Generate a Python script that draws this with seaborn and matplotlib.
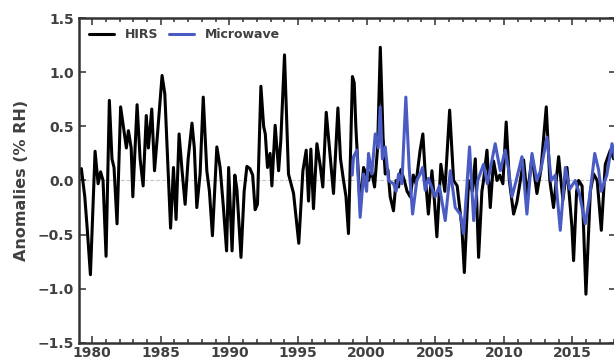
import numpy as np
import pandas as pd
import matplotlib
matplotlib.use("Agg")
import matplotlib.pyplot as plt
from matplotlib.ticker import MultipleLocator
import seaborn as sns

# HIRS anomalies (decimal year, % RH)
hirs_year = [
    1979.0, 1979.22, 1979.47, 1979.65, 1979.88, 1980.05, 1980.22, 1980.44, 1980.62, 1980.8,
    1981.02, 1981.26, 1981.45, 1981.6, 1981.82, 1982.08, 1982.3, 1982.5, 1982.65, 1982.85,
    1982.97, 1983.28, 1983.5, 1983.72, 1983.95, 1984.1, 1984.35, 1984.55, 1984.75, 1985.1,
    1985.3, 1985.5, 1985.72, 1985.93, 1986.12, 1986.34, 1986.55, 1986.78, 1987.0, 1987.28,
    1987.45, 1987.63, 1987.87, 1988.1, 1988.36, 1988.55, 1988.77, 1989.09, 1989.33, 1989.57,
    1989.8, 1989.95, 1990.2, 1990.4, 1990.55, 1990.85, 1991.08, 1991.28, 1991.5, 1991.7,
    1991.88, 1992.05, 1992.3, 1992.5, 1992.62, 1992.78, 1992.97, 1993.1, 1993.34, 1993.59,
    1993.75, 1994.02, 1994.31, 1994.68, 1995.06, 1995.36, 1995.6, 1995.77, 1995.94, 1996.13,
    1996.38, 1996.62, 1996.81, 1997.06, 1997.35, 1997.59, 1997.91, 1998.1, 1998.32, 1998.5,
    1998.68, 1998.97, 1999.1, 1999.22, 1999.53, 1999.78, 2000.14, 2000.35, 2000.58, 2000.8,
    2001.0, 2001.2, 2001.36, 2001.55, 2001.72, 2001.96, 2002.15, 2002.33, 2002.5, 2002.75,
    2002.95, 2003.18, 2003.4, 2003.6, 2003.9, 2004.1, 2004.3, 2004.5, 2004.76, 2004.95,
    2005.12, 2005.41, 2005.7, 2006.05, 2006.34, 2006.6, 2006.94, 2007.12, 2007.43, 2007.7,
    2007.92, 2008.16, 2008.4, 2008.52, 2008.77, 2009.01, 2009.25, 2009.5, 2009.7, 2009.93,
    2010.17, 2010.4, 2010.71, 2010.95, 2011.2, 2011.44, 2011.7, 2012.05, 2012.41, 2012.7,
    2013.09, 2013.35, 2013.62, 2013.99, 2014.3, 2014.6, 2014.96, 2015.08, 2015.3, 2015.45,
    2015.7, 2015.98, 2016.3, 2016.54, 2016.8, 2017.1, 2017.39, 2017.76, 2018.0, 2018.1,
]
hirs_anom = [
    0.05, 0.11, -0.15, -0.45, -0.87, -0.3, 0.27, -0.03, 0.08, 0.0,
    -0.7, 0.74, 0.2, 0.12, -0.4, 0.68, 0.48, 0.3, 0.46, 0.3,
    -0.15, 0.7, 0.2, -0.05, 0.6, 0.3, 0.66, 0.09, 0.4, 0.97,
    0.8, 0.2, -0.44, 0.12, -0.36, 0.43, 0.1, -0.22, 0.2, 0.53,
    0.3, -0.25, 0.06, 0.77, 0.09, -0.1, -0.51, 0.31, 0.12, -0.25,
    -0.65, 0.12, -0.65, 0.05, -0.08, -0.71, -0.1, 0.13, 0.11, 0.05,
    -0.27, -0.22, 0.87, 0.5, 0.43, 0.12, 0.25, -0.05, 0.51, 0.09,
    0.37, 1.16, 0.06, -0.12, -0.58, 0.09, 0.28, -0.19, 0.29, -0.26,
    0.34, 0.14, -0.06, 0.63, 0.22, -0.12, 0.67, 0.2, 0.0, -0.15,
    -0.49, 0.96, 0.9, 0.49, -0.25, 0.12, 0.0, 0.1, -0.06, 0.3,
    1.23, 0.4, 0.06, 0.1, -0.15, -0.28, 0.0, -0.06, 0.1, 0.0,
    -0.1, -0.15, 0.05, -0.03, 0.28, 0.43, 0.0, -0.31, 0.09, -0.2,
    -0.52, 0.15, -0.1, 0.65, 0.0, -0.05, -0.43, -0.85, 0.0, -0.1,
    0.2, -0.71, -0.1, 0.0, 0.28, -0.25, 0.18, 0.0, 0.05, -0.03,
    0.54, 0.0, -0.31, -0.2, 0.0, 0.19, -0.15, 0.22, -0.12, 0.1,
    0.68, 0.0, -0.25, 0.22, -0.18, 0.12, -0.43, -0.74, -0.1, 0.0,
    -0.05, -1.05, -0.1, 0.06, 0.0, -0.46, 0.15, 0.28, 0.2, 0.25,
]

# Microwave anomalies
mw_year = [
    1998.95, 1999.05, 1999.29, 1999.53, 1999.78, 2000.0, 2000.14, 2000.38, 2000.63, 2000.85,
    2000.99, 2001.15, 2001.36, 2001.6, 2001.96, 2002.15, 2002.33, 2002.57, 2002.86, 2003.1,
    2003.35, 2003.66, 2003.9, 2004.08, 2004.27, 2004.5, 2005.0, 2005.3, 2005.73, 2006.1,
    2006.46, 2006.82, 2007.07, 2007.5, 2007.8, 2008.1, 2008.52, 2008.8, 2009.37, 2009.74,
    2010.1, 2010.35, 2010.59, 2010.9, 2011.32, 2011.68, 2012.05, 2012.4, 2012.7, 2013.14,
    2013.45, 2013.75, 2014.11, 2014.48, 2014.8, 2015.2, 2015.5, 2015.93, 2016.25, 2016.62,
    2016.9, 2017.1, 2017.5, 2017.88, 2018.1,
]
mw_anom = [
    0.05, 0.22, 0.28, -0.34, 0.06, -0.1, 0.25, 0.06, 0.43, 0.3,
    0.68, 0.2, 0.31, 0.0, -0.03, -0.1, 0.06, -0.03, 0.77, 0.12,
    -0.31, 0.0, 0.06, 0.12, -0.09, 0.02, -0.15, -0.05, -0.37, 0.09,
    -0.25, -0.31, -0.49, 0.31, -0.37, 0.0, 0.15, -0.03, 0.34, 0.09,
    0.28, 0.1, -0.15, 0.0, 0.22, -0.31, 0.25, 0.0, 0.1, 0.4,
    0.0, 0.05, -0.46, 0.12, -0.08, 0.0, -0.12, -0.4, -0.15, 0.25,
    0.1, -0.1, 0.05, 0.34, 0.2,
]

sns.set_style("ticks")
plt.rcParams["font.family"] = ["DejaVu Sans"]
plt.rcParams["font.weight"] = "bold"
text_col = "#404040"

fig = plt.figure(figsize=(6.14, 3.61), dpi=100)
ax = fig.add_axes([0.1287, 0.05, 0.875, 0.9])

hirs_df = pd.DataFrame({"year": hirs_year, "anom": hirs_anom})
mw_df = pd.DataFrame({"year": mw_year, "anom": mw_anom})

# faint dashed zero line
ax.axhline(0, color="#c8c8c8", linestyle="--", linewidth=0.8, zorder=0)

sns.lineplot(data=hirs_df, x="year", y="anom", ax=ax, color="black",
             linewidth=2.2, estimator=None, sort=False, label="HIRS")
sns.lineplot(data=mw_df, x="year", y="anom", ax=ax, color="#4a5cc4",
             linewidth=2.2, estimator=None, sort=False, label="Microwave")

ax.set_xlim(1979.05, 2018.19)
ax.set_ylim(-1.5, 1.5)
ax.xaxis.set_major_locator(MultipleLocator(5))
ax.xaxis.set_minor_locator(MultipleLocator(1))
ax.yaxis.set_major_locator(MultipleLocator(0.5))
ax.set_xlabel("")
ax.set_ylabel("Anomalies (% RH)", fontsize=11.5, color=text_col, labelpad=6,
              fontweight="bold")

ax.tick_params(axis="both", which="both", direction="in", top=True, right=True,
               colors=text_col, labelsize=10, width=1.2)
ax.tick_params(which="major", length=5)
ax.tick_params(which="minor", length=3)
ax.tick_params(axis="x", pad=2)
for sp in ax.spines.values():
    sp.set_linewidth(1.8)
    sp.set_color("#333333")

leg = ax.legend(loc="upper left", ncol=2, frameon=False, fontsize=9,
                handlelength=2.0, columnspacing=0.8, handletextpad=0.9,
                borderaxespad=0.4)
for t in leg.get_texts():
    t.set_color(text_col)

fig.savefig("out.png", dpi=100)
